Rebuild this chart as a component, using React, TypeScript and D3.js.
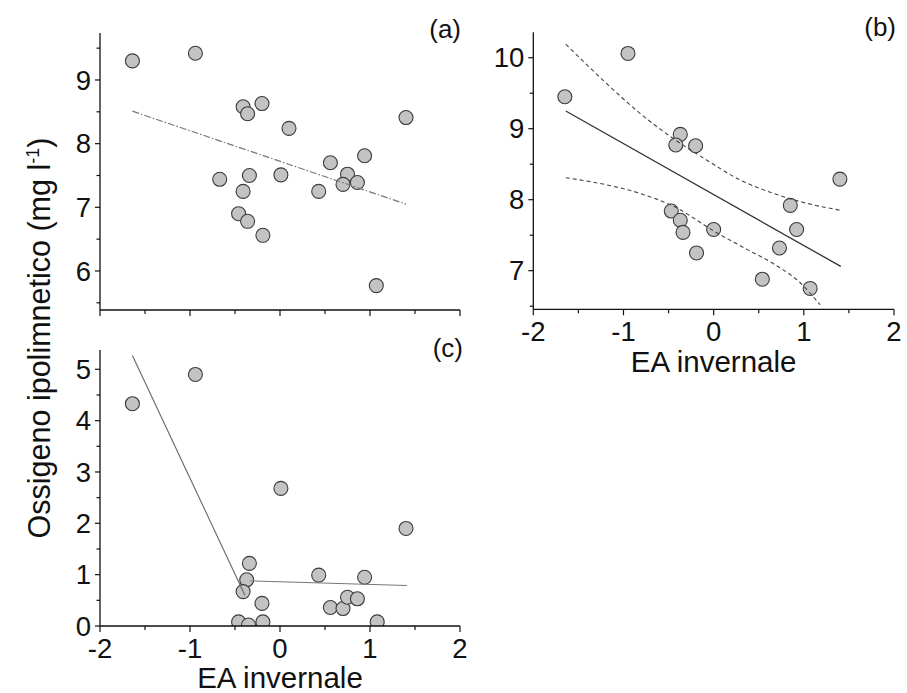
import React from "react";
import * as d3 from "d3";

// ---------- data ----------
const xMajor = [-2, -1, 0, 1, 2];
const xMinor = [-1.5, -0.5, 0.5, 1.5];

const aYMajor = [6, 7, 8, 9];
const aYMinor = [5.5, 6.5, 7.5, 8.5, 9.5];
const bYMajor = [7, 8, 9, 10];
const bYMinor = [6.5, 7.5, 8.5, 9.5];
const cYMajor = [0, 1, 2, 3, 4, 5];
const cYMinor = [0.5, 1.5, 2.5, 3.5, 4.5];

const aX = [-1.64, -0.94, -0.41, -0.36, -0.2, 0.1, 1.4, -0.67, -0.34, -0.41, 0.01, -0.46, -0.36, -0.19, 0.43, 0.56, 0.75, 0.7, 0.86, 0.94, 1.07];
const aY = [9.3, 9.42, 8.58, 8.47, 8.63, 8.24, 8.41, 7.44, 7.5, 7.25, 7.51, 6.9, 6.78, 6.56, 7.25, 7.7, 7.52, 7.36, 7.39, 7.81, 5.77];
const aFitX = [-1.64, 1.4];
const aFitY = [8.51, 7.05];

const bX = [-1.65, -0.95, -0.37, -0.42, -0.2, 1.4, 0.85, -0.47, -0.37, -0.34, 0.0, 0.92, -0.19, 0.73, 0.54, 1.07];
const bY = [9.45, 10.06, 8.92, 8.77, 8.76, 8.29, 7.92, 7.84, 7.71, 7.54, 7.58, 7.58, 7.25, 7.32, 6.88, 6.75];
const bFitX = [-1.64, 1.41];
const bFitY = [9.25, 7.06];
const bUpperX = [-1.64, -1.19, -0.82, -0.48, -0.08, 0.29, 0.66, 1.03, 1.41];
const bUpperY = [10.19, 9.64, 9.22, 8.89, 8.56, 8.28, 8.09, 7.95, 7.85];
const bLowerX = [-1.64, -1.19, -0.82, -0.45, 0.04, 0.37, 0.66, 0.96, 1.18];
const bLowerY = [8.31, 8.21, 8.09, 7.91, 7.53, 7.3, 7.1, 6.83, 6.52];

const cX = [-1.64, -0.94, 0.01, 1.4, -0.34, -0.37, -0.41, 0.43, 0.94, -0.2, 0.56, 0.7, 0.75, 0.86, -0.46, -0.35, -0.19, 1.08];
const cY = [4.33, 4.9, 2.68, 1.9, 1.22, 0.9, 0.67, 0.99, 0.95, 0.44, 0.36, 0.34, 0.56, 0.53, 0.08, 0.02, 0.08, 0.08];
const cSeg1X = [-1.64, -0.39];
const cSeg1Y = [5.27, 0.6];
const cSeg2X = [-0.33, 1.41];
const cSeg2Y = [0.88, 0.79];

const FONT = "'Liberation Sans', Arial, Helvetica, sans-serif";

type Line = { xs: number[]; ys: number[]; stroke: string; width: number; dash?: string };

function Panel(props: {
  id: string;
  left: number;
  right: number;
  top: number;
  bottom: number;
  yDomain: [number, number];
  yMajor: number[];
  yMinor: number[];
  xs: number[];
  ys: number[];
  lines: Line[];
  label: string;
  labelX: number;
  labelY: number;
  showXLabels: boolean;
  xTitleY?: number;
}) {
  const { id, left, right, top, bottom } = props;
  const x = d3.scaleLinear().domain([-2, 2]).range([left, right]);
  const y = d3.scaleLinear().domain(props.yDomain).range([bottom, top]);
  const line = d3
    .line<[number, number]>()
    .x((d) => x(d[0]))
    .y((d) => y(d[1]))
    .curve(d3.curveMonotoneX);
  return (
    <g>
      <defs>
        <clipPath id={"clip-" + id}>
          <rect x={left} y={top - 10} width={right - left + 10} height={bottom - top + 10} />
        </clipPath>
      </defs>
      <g clipPath={`url(#clip-${id})`}>
        {props.xs.map((xv, i) => (
          <circle key={i} cx={x(xv)} cy={y(props.ys[i])} r={7} fill="#c3c3c3" stroke="#3a3a3a" strokeWidth={1.1} />
        ))}
      </g>
      {props.lines.map((l, i) => (
        <path
          key={i}
          d={line(l.xs.map((xv, j) => [xv, l.ys[j]] as [number, number])) || ""}
          fill="none"
          stroke={l.stroke}
          strokeWidth={l.width}
          strokeDasharray={l.dash}
        />
      ))}
      {/* axes */}
      <line x1={left} x2={left} y1={top} y2={bottom} stroke="#111" strokeWidth={1.3} />
      <line x1={left} x2={right} y1={bottom} y2={bottom} stroke="#111" strokeWidth={1.3} />
      {props.yMajor.map((v) => (
        <g key={"ym" + v}>
          <line x1={left - 5} x2={left} y1={y(v)} y2={y(v)} stroke="#111" strokeWidth={1.2} />
          <text x={left - 9} y={y(v)} dy="0.35em" textAnchor="end" fontSize={27.5} fontFamily={FONT} fill="#111">
            {String(v)}
          </text>
        </g>
      ))}
      {props.yMinor.map((v) => (
        <line key={"yn" + v} x1={left - 3.5} x2={left} y1={y(v)} y2={y(v)} stroke="#111" strokeWidth={1.2} />
      ))}
      {xMajor.map((v) => (
        <g key={"xm" + v}>
          <line x1={x(v)} x2={x(v)} y1={bottom} y2={bottom + 6} stroke="#111" strokeWidth={1.2} />
          {props.showXLabels && (
            <text x={x(v)} y={bottom + 32} textAnchor="middle" fontSize={27.5} fontFamily={FONT} fill="#111">
              {String(v)}
            </text>
          )}
        </g>
      ))}
      {xMinor.map((v) => (
        <line key={"xn" + v} x1={x(v)} x2={x(v)} y1={bottom} y2={bottom + 4} stroke="#111" strokeWidth={1.2} />
      ))}
      {props.showXLabels && props.xTitleY !== undefined && (
        <text x={(left + right) / 2} y={props.xTitleY} textAnchor="middle" fontSize={29.5} fontFamily={FONT} fill="#111">
          EA invernale
        </text>
      )}
      <text x={props.labelX} y={props.labelY} textAnchor="end" fontSize={26} fontFamily={FONT} fill="#111">
        {props.label}
      </text>
    </g>
  );
}

export default function App() {
  return (
    <svg
      width={907}
      height={693}
      viewBox="0 0 907 693"
      style={{ position: "absolute", left: 0, top: 0, background: "#fff" }}
    >
      <rect width={907} height={693} fill="#fff" />
      <Panel
        id="a"
        left={100}
        right={460}
        top={33}
        bottom={310}
        yDomain={[5.387, 9.738]}
        yMajor={aYMajor}
        yMinor={aYMinor}
        xs={aX}
        ys={aY}
        lines={[{ xs: aFitX, ys: aFitY, stroke: "#777", width: 1.2, dash: "7,2,1.5,2" }]}
        label="(a)"
        labelX={461}
        labelY={38}
        showXLabels={false}
      />
      <Panel
        id="b"
        left={533.3}
        right={894}
        top={32.3}
        bottom={309.3}
        yDomain={[6.456, 10.358]}
        yMajor={bYMajor}
        yMinor={bYMinor}
        xs={bX}
        ys={bY}
        lines={[
          { xs: bFitX, ys: bFitY, stroke: "#333", width: 1.3 },
          { xs: bUpperX, ys: bUpperY, stroke: "#444", width: 1.1, dash: "4,3" },
          { xs: bLowerX, ys: bLowerY, stroke: "#444", width: 1.1, dash: "4,3" },
        ]}
        label="(b)"
        labelX={896}
        labelY={36}
        showXLabels={true}
        xTitleY={372}
      />
      <Panel
        id="c"
        left={100}
        right={460}
        top={350}
        bottom={626}
        yDomain={[0, 5.376]}
        yMajor={cYMajor}
        yMinor={cYMinor}
        xs={cX}
        ys={cY}
        lines={[
          { xs: cSeg1X, ys: cSeg1Y, stroke: "#666", width: 1.1 },
          { xs: cSeg2X, ys: cSeg2Y, stroke: "#777", width: 1.1 },
        ]}
        label="(c)"
        labelX={463}
        labelY={357}
        showXLabels={true}
        xTitleY={688}
      />
      <text
        transform="translate(50,338) rotate(-90)"
        textAnchor="middle"
        fontSize={30.5}
        fontFamily={FONT}
        fill="#111"
      >
        Ossigeno ipolimnetico (mg l
        <tspan dy={-11} fontSize={18}>-1</tspan>
        <tspan dy={11}>)</tspan>
      </text>
    </svg>
  );
}
